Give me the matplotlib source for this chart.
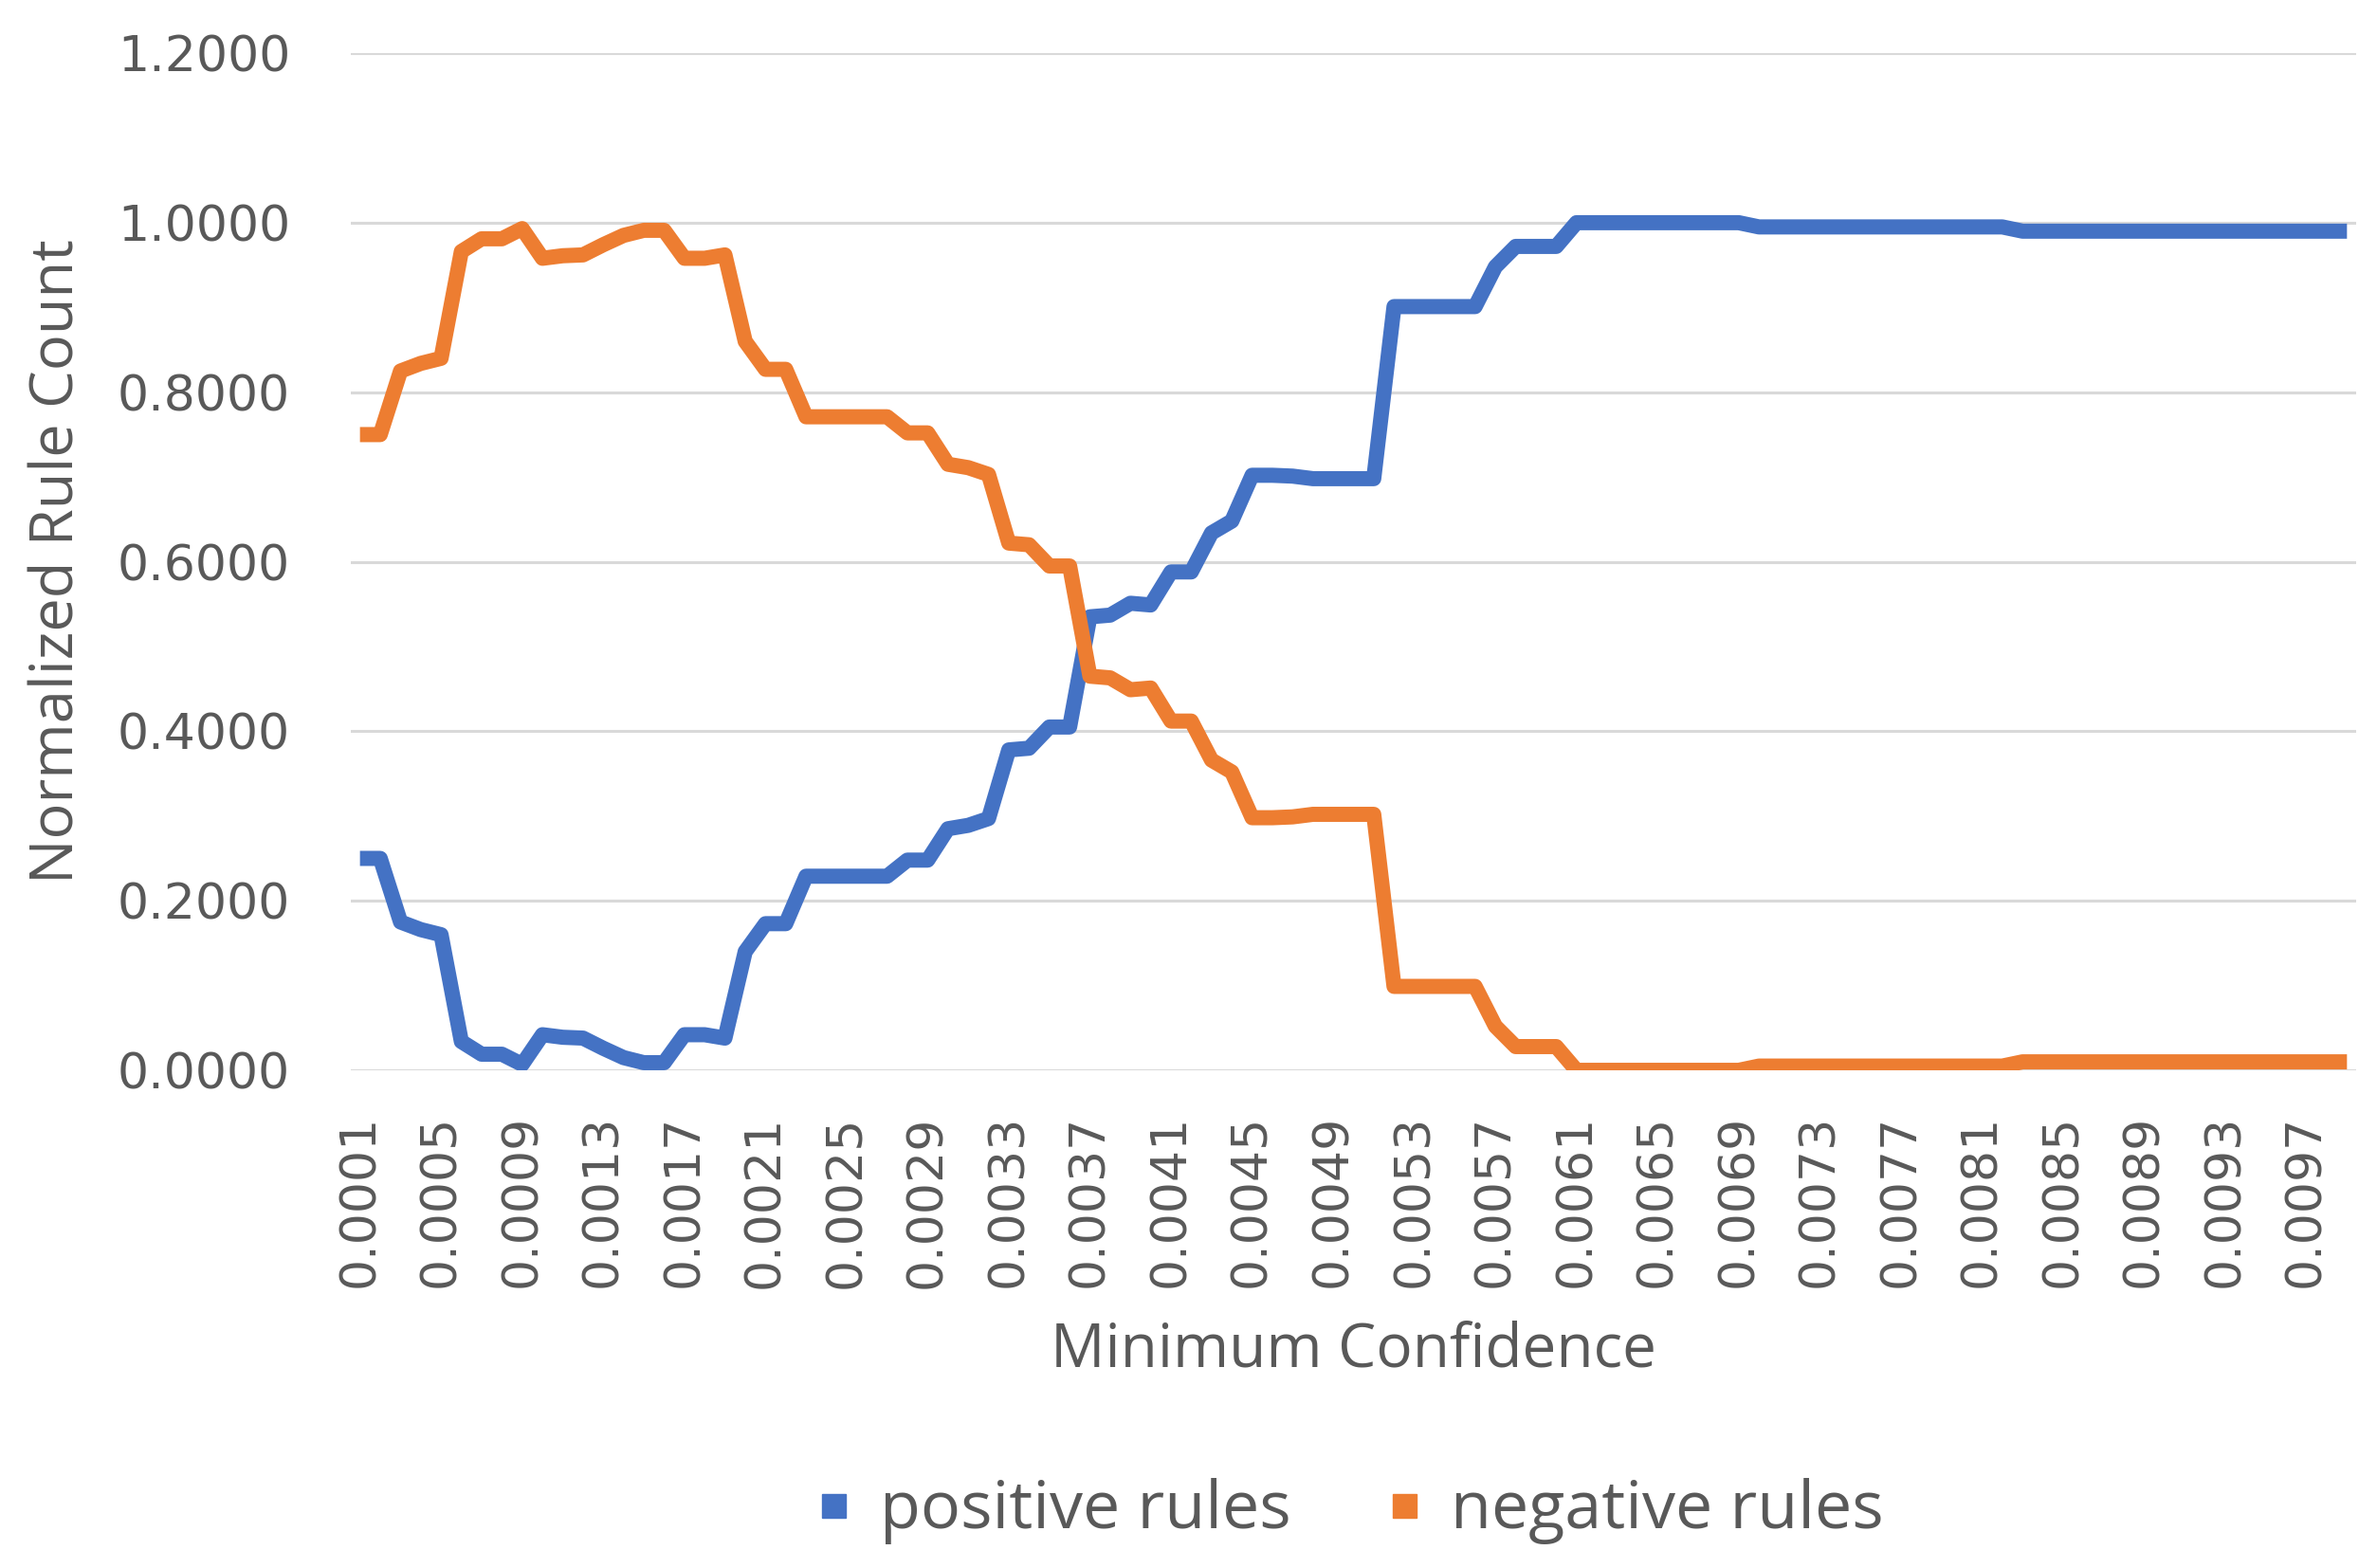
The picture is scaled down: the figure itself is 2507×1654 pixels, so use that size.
import matplotlib
matplotlib.use("Agg")
import matplotlib.pyplot as plt
from matplotlib.lines import Line2D

# minimum confidence categories 0.0001 .. 0.0099
confidence = [round(0.0001 * (k + 1), 4) for k in range(99)]

positive_rules = [
    0.250, 0.250, 0.175, 0.166, 0.160, 0.034, 0.019, 0.019, 0.007, 0.042,
    0.039, 0.038, 0.026, 0.015, 0.009, 0.009, 0.042, 0.042, 0.038, 0.140,
    0.173, 0.173, 0.229, 0.229, 0.229, 0.229, 0.229, 0.248, 0.248, 0.285,
    0.289, 0.297, 0.378, 0.380, 0.405, 0.405, 0.535, 0.537, 0.551, 0.549,
    0.588, 0.588, 0.634, 0.648, 0.702, 0.702, 0.701, 0.698, 0.698, 0.698,
    0.698, 0.901, 0.901, 0.901, 0.901, 0.901, 0.948, 0.972, 0.972, 0.972,
    1.000, 1.000, 1.000, 1.000, 1.000, 1.000, 1.000, 1.000, 1.000, 0.995,
    0.995, 0.995, 0.995, 0.995, 0.995, 0.995, 0.995, 0.995, 0.995, 0.995,
    0.995, 0.995, 0.990, 0.990, 0.990, 0.990, 0.990, 0.990, 0.990, 0.990,
    0.990, 0.990, 0.990, 0.990, 0.990, 0.990, 0.990, 0.990, 0.990,
]

negative_rules = [
    0.750, 0.750, 0.825, 0.834, 0.840, 0.966, 0.981, 0.981, 0.993, 0.958,
    0.961, 0.962, 0.974, 0.985, 0.991, 0.991, 0.958, 0.958, 0.962, 0.860,
    0.827, 0.827, 0.771, 0.771, 0.771, 0.771, 0.771, 0.752, 0.752, 0.715,
    0.711, 0.703, 0.622, 0.620, 0.595, 0.595, 0.465, 0.463, 0.449, 0.451,
    0.412, 0.412, 0.366, 0.352, 0.298, 0.298, 0.299, 0.302, 0.302, 0.302,
    0.302, 0.099, 0.099, 0.099, 0.099, 0.099, 0.052, 0.028, 0.028, 0.028,
    0.000, 0.000, 0.000, 0.000, 0.000, 0.000, 0.000, 0.000, 0.000, 0.005,
    0.005, 0.005, 0.005, 0.005, 0.005, 0.005, 0.005, 0.005, 0.005, 0.005,
    0.005, 0.005, 0.010, 0.010, 0.010, 0.010, 0.010, 0.010, 0.010, 0.010,
    0.010, 0.010, 0.010, 0.010, 0.010, 0.010, 0.010, 0.010, 0.010,
]

y_ticks = [0.0, 0.2, 0.4, 0.6, 0.8, 1.0, 1.2]

blue = '#4472C4'
orange = '#ED7D31'
grid_col = '#D9D9D9'
text_col = '#595959'

fig = plt.figure(figsize=(25.07, 16.54), dpi=100)
ax = fig.add_axes([0.1476, 0.3174, 0.8436, 0.6487])

x = list(range(len(confidence)))
ax.plot(x, positive_rules, color=blue, lw=11.5, solid_joinstyle='round',
        solid_capstyle='butt', zorder=3)
ax.plot(x, negative_rules, color=orange, lw=11.5, solid_joinstyle='round',
        solid_capstyle='butt', zorder=3)

ax.set_xlim(-0.45, len(confidence) - 1 + 0.45)
ax.set_ylim(0, 1.2)
ax.set_yticks(y_ticks)
ax.set_yticklabels(['%.4f' % v for v in y_ticks])
ax.set_xticks(x[::4])
ax.set_xticklabels(['%.4f' % c for c in confidence[::4]], rotation=90)

for s in ax.spines.values():
    s.set_visible(False)
ax.grid(axis='y', color=grid_col, lw=2.2, zorder=0)
ax.set_axisbelow(True)
ax.tick_params(length=0, labelcolor=text_col, labelsize=37.5)
ax.tick_params(axis='y', pad=46)
ax.tick_params(axis='x', pad=34)

ax.set_ylabel('Normalized Rule Count', fontsize=45.5, color=text_col,
              family='Open Sans', va='center')
ax.yaxis.set_label_coords(-0.146, 0.5)
ax.set_xlabel('Minimum Confidence', fontsize=46, color=text_col,
              family='Open Sans', va='center')
ax.xaxis.set_label_coords(0.5, -0.275)

handles = [
    Line2D([], [], ls='none', marker='s', ms=18, color=blue),
    Line2D([], [], ls='none', marker='s', ms=18, color=orange),
]
fig.legend(handles, ['positive rules', 'negative rules'], loc='center',
           bbox_to_anchor=(0.566, 0.036), ncol=2, frameon=False,
           prop={'family': 'Open Sans', 'size': 50.5}, labelcolor=text_col,
           handletextpad=0.3, columnspacing=1.3, handlelength=0.8)

fig.savefig('out.png', dpi=100)
